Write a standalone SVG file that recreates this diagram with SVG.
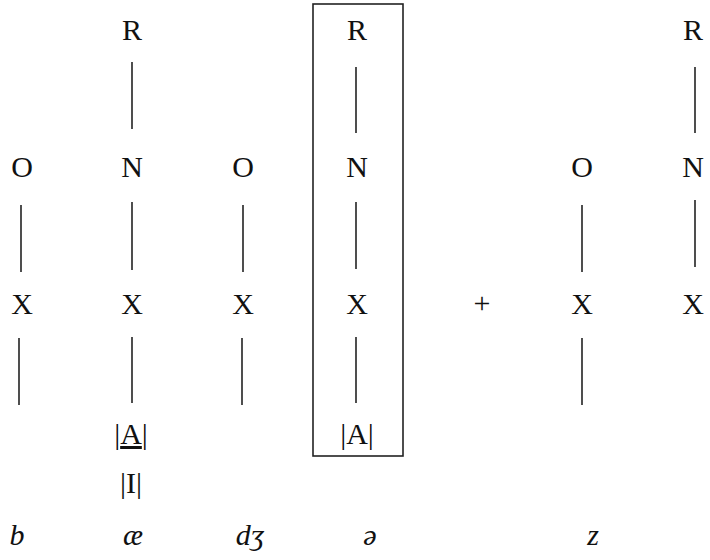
<svg xmlns="http://www.w3.org/2000/svg" width="710" height="560" viewBox="0 0 710 560">
<style>
.t{font-family:"Liberation Serif","Times New Roman",serif;font-size:30px;fill:#111;text-anchor:middle}
.i{font-style:italic}
.c line{stroke:#222;stroke-width:1.6}
.box{fill:none;stroke:#222;stroke-width:1.6}
</style>
<rect width="710" height="560" fill="#fff"/>
<rect id="box" class="box" x="313" y="4" width="90" height="452"/>
<g class="c" id="connectors">
<line x1="21" y1="205" x2="21" y2="272"/>
<line x1="19" y1="338" x2="19" y2="405"/>
<line x1="132" y1="62" x2="132" y2="129"/>
<line x1="132" y1="202" x2="132" y2="270"/>
<line x1="132" y1="337" x2="132" y2="403"/>
<line x1="243" y1="205" x2="243" y2="272"/>
<line x1="242" y1="338" x2="242" y2="405"/>
<line x1="356" y1="67" x2="356" y2="133"/>
<line x1="356" y1="202" x2="356" y2="269"/>
<line x1="356" y1="337" x2="356" y2="403"/>
<line x1="582" y1="205" x2="582" y2="272"/>
<line x1="582" y1="338" x2="582" y2="405"/>
<line x1="695" y1="67" x2="695" y2="133"/>
<line x1="695" y1="200" x2="695" y2="267"/>
</g>
<g id="col1"><text class="t" x="22" y="177">O</text><text class="t" x="22" y="314">X</text></g>
<g id="col2"><text class="t" x="132" y="40">R</text><text class="t" x="132" y="177">N</text><text class="t" x="132" y="314">X</text>
<text class="t" x="131" y="444">|<tspan text-decoration="underline">A</tspan>|</text><text class="t" x="131" y="493">|I|</text></g>
<g id="col3"><text class="t" x="243" y="177">O</text><text class="t" x="243" y="314">X</text></g>
<g id="col4"><text class="t" x="357" y="40">R</text><text class="t" x="357" y="177">N</text><text class="t" x="357" y="314">X</text><text class="t" x="357" y="444">|A|</text></g>
<g id="plus"><text class="t" x="482" y="313">+</text></g>
<g id="col5"><text class="t" x="582" y="177">O</text><text class="t" x="582" y="314">X</text></g>
<g id="col6"><text class="t" x="693" y="40">R</text><text class="t" x="693" y="177">N</text><text class="t" x="693" y="314">X</text></g>
<g id="labels">
<text class="t i" x="17" y="545">b</text>
<text class="t i" x="133" y="545">æ</text>
<text class="t i" x="250" y="545">dʒ</text>
<text class="t i" x="370" y="545">ə</text>
<text class="t i" x="593" y="545">z</text>
</g>
</svg>
